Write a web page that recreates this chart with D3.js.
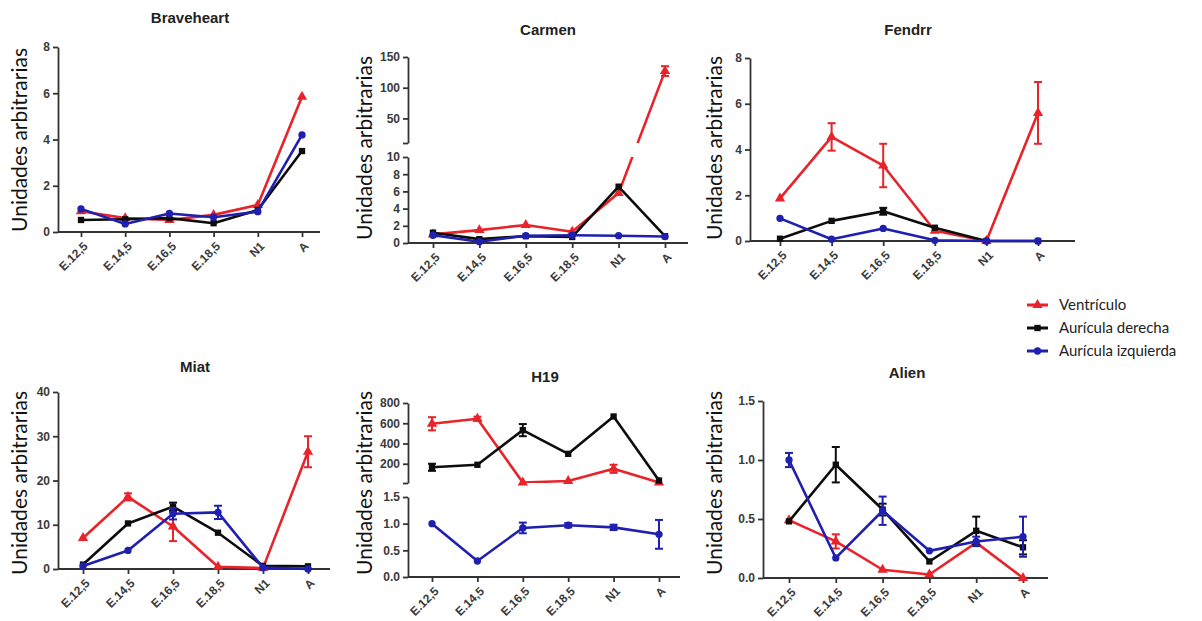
<!DOCTYPE html>
<html>
<head>
<meta charset="utf-8">
<script src="https://cdn.jsdelivr.net/npm/d3@7"></script>
<style>
  body { margin: 0; background: #fff; }
  .tick text { font-family: "Liberation Sans", Arial, sans-serif; font-weight: bold; font-size: 12px; fill: #3a3a3a; }
  .panel-title { font-family: "Liberation Sans", Arial, sans-serif; font-weight: bold; font-size: 15px; fill: #222; }
  .y-label { font-family: Lato, sans-serif; font-size: 21px; fill: #111; }
  .legend text { font-family: Lato, sans-serif; font-size: 15px; fill: #222; }
</style>
</head>
<body>
<div id="chart"></div>
<script>
// categories and series
const categories = ["E.12,5", "E.14,5", "E.16,5", "E.18,5", "N1", "A"];
const seriesNames = ["Ventrículo", "Aurícula derecha", "Aurícula izquierda"];
const seriesColors = ["#e8232a", "#0d0d0d", "#1f1fb0"];

// Braveheart
const braveheartVent = [0.9, 0.6, 0.52, 0.74, 1.17, 5.85];
const braveheartDer  = [0.52, 0.55, 0.6, 0.38, 0.95, 3.5];
const braveheartIzq  = [1.0, 0.35, 0.8, 0.64, 0.88, 4.2];
const braveheartErr  = [[0,0,0,0,0,0],[0,0,0,0,0,0],[0,0,0,0,0,0]];

// Carmen
const carmenVent = [1.0, 1.5, 2.1, 1.3, 5.8, 127];
const carmenDer  = [1.2, 0.45, 0.8, 0.7, 6.55, 0.8];
const carmenIzq  = [0.9, 0.15, 0.85, 0.9, 0.85, 0.75];
const carmenErr  = [[0,0,0,0,0,8],[0,0,0,0,0,0],[0,0,0,0,0,0]];

// Fendrr
const fendrrVent = [1.86, 4.55, 3.3, 0.45, 0.0, 5.6];
const fendrrDer  = [0.1, 0.88, 1.3, 0.58, 0.0, 0.0];
const fendrrIzq  = [0.99, 0.08, 0.55, 0.03, 0.0, 0.0];
const fendrrErr  = [[0,0.6,0.95,0,0,1.35],[0,0,0.15,0,0,0],[0,0,0,0,0,0]];

// Miat
const miatVent = [7.0, 16.3, 9.6, 0.5, 0.2, 26.5];
const miatDer  = [1.0, 10.3, 14.1, 8.2, 0.7, 0.6];
const miatIzq  = [0.7, 4.2, 12.5, 12.8, 0.3, 0.0];
const miatErr  = [[0,0.8,3.3,0,0,3.5],[0,0,0.9,0,0,0],[0,0,1.3,1.5,0,0]];

// H19
const h19Vent = [595, 645, 15, 30, 150, 15];
const h19Der  = [165, 190, 532, 298, 667, 34];
const h19Izq  = [1.0, 0.3, 0.92, 0.97, 0.93, 0.8];
const h19Err  = [[65,20,0,0,40,0],[35,0,60,0,0,0],[0,0,0.1,0.04,0.05,0.27]];

// Alien
const alienVent = [0.49, 0.31, 0.07, 0.03, 0.3, 0.0];
const alienDer  = [0.48, 0.96, 0.58, 0.14, 0.4, 0.26];
const alienIzq  = [1.0, 0.17, 0.57, 0.23, 0.31, 0.35];
const alienErr  = [[0,0.06,0,0,0,0],[0,0.15,0.05,0,0.12,0.06],[0.06,0,0.12,0,0.04,0.17]];

const fmtInt = d3.format("d");
const fmt1 = d3.format(".1f");

const panels = [
  { title: "Braveheart", titleX: 190, titleY: 23, axisX: 58, axisEnd: 320, x0: 81, x5: 302,
    labelX: 27, labelY: 140,
    segments: [{ domain: [0, 8], range: [232, 47], ticks: [0, 2, 4, 6, 8], fmt: fmtInt }],
    series: [braveheartVent, braveheartDer, braveheartIzq], errs: braveheartErr },
  { title: "Carmen", titleX: 548, titleY: 35, axisX: 408, axisEnd: 688, x0: 433, x5: 665,
    labelX: 372, labelY: 148,
    segments: [{ domain: [0, 10], range: [243, 157], ticks: [0, 2, 4, 6, 8, 10], fmt: fmtInt },
               { domain: [10, 150], range: [143, 57], ticks: [10, 50, 100, 150], fmt: d => d === 10 ? "" : fmtInt(d) }],
    series: [carmenVent, carmenDer, carmenIzq], errs: carmenErr },
  { title: "Fendrr", titleX: 908, titleY: 35, axisX: 750, axisEnd: 1075, x0: 780, x5: 1038,
    labelX: 722, labelY: 148,
    segments: [{ domain: [0, 8], range: [241, 58], ticks: [0, 2, 4, 6, 8], fmt: fmtInt }],
    series: [fendrrVent, fendrrDer, fendrrIzq], errs: fendrrErr },
  { title: "Miat", titleX: 195, titleY: 372, axisX: 58, axisEnd: 330, x0: 83, x5: 308,
    labelX: 27, labelY: 483,
    segments: [{ domain: [0, 40], range: [569, 392], ticks: [0, 10, 20, 30, 40], fmt: fmtInt }],
    series: [miatVent, miatDer, miatIzq], errs: miatErr },
  { title: "H19", titleX: 545, titleY: 382, axisX: 408, axisEnd: 680, x0: 432, x5: 659,
    labelX: 372, labelY: 483,
    segments: [{ domain: [0, 1.5], range: [577, 497], ticks: [0, 0.5, 1.0, 1.5], fmt: fmt1 },
               { domain: [10, 800], range: [483, 403], ticks: [10, 200, 400, 600, 800], fmt: d => d === 10 ? "" : fmtInt(d) }],
    series: [h19Vent, h19Der, h19Izq], errs: h19Err },
  { title: "Alien", titleX: 907, titleY: 378, axisX: 763, axisEnd: 1048, x0: 789, x5: 1023,
    labelX: 722, labelY: 483,
    segments: [{ domain: [0, 1.5], range: [578, 401], ticks: [0, 0.5, 1.0, 1.5], fmt: fmt1 }],
    series: [alienVent, alienDer, alienIzq], errs: alienErr }
];

const symbols = [d3.symbolTriangle, d3.symbolSquare, d3.symbolCircle];
const symbolSizes = [46, 40, 42];

const svg = d3.select("#chart").append("svg")
  .attr("width", 1202)
  .attr("height", 621);

panels.forEach((p, pi) => {
  const g = svg.append("g").attr("class", "panel");

  const x = d3.scalePoint().domain(categories).range([p.x0, p.x5]);
  const scales = p.segments.map(s => d3.scaleLinear().domain(s.domain).range(s.range));

  // piecewise y mapping for broken axes
  const y = v => {
    for (let i = scales.length - 1; i >= 0; i--) {
      if (v >= p.segments[i].domain[0] || i === 0) return scales[i](v);
    }
  };

  // title
  g.append("text").attr("class", "panel-title")
    .attr("x", p.titleX).attr("y", p.titleY)
    .attr("text-anchor", "middle")
    .text(p.title);

  // y label
  g.append("text").attr("class", "y-label")
    .attr("transform", `translate(${p.labelX},${p.labelY}) rotate(-90)`)
    .attr("text-anchor", "middle")
    .text("Unidades arbitrarias");

  // y axis segments
  p.segments.forEach((s, si) => {
    const ax = g.append("g")
      .attr("transform", `translate(${p.axisX},0)`)
      .call(d3.axisLeft(scales[si]).tickValues(s.ticks).tickFormat(s.fmt).tickSize(5).tickSizeOuter(0));
    ax.select(".domain").attr("stroke", "#333").attr("stroke-width", 1.8);
    ax.selectAll(".tick line").attr("stroke", "#333").attr("stroke-width", 1.8);
    ax.selectAll(".tick text").attr("x", -8);
  });

  // x axis
  const yBottom = p.segments[0].range[0];
  const xa = g.append("g")
    .attr("transform", `translate(0,${yBottom})`)
    .call(d3.axisBottom(x).tickSize(5).tickSizeOuter(0));
  xa.select(".domain").remove();
  xa.append("line")
    .attr("x1", p.axisX).attr("x2", p.axisEnd)
    .attr("stroke", "#333").attr("stroke-width", 1.8);
  xa.selectAll(".tick line").attr("stroke", "#333").attr("stroke-width", 1.8);
  xa.selectAll(".tick text")
    .attr("x", 0).attr("y", 0).attr("dy", "0.35em")
    .attr("transform", "translate(4,12) rotate(-45)")
    .style("text-anchor", "end");

  // clip out the gap of a broken axis
  let clipId = null;
  if (p.segments.length > 1) {
    clipId = `clip-${pi}`;
    const cp = svg.append("defs").append("clipPath").attr("id", clipId);
    cp.append("rect").attr("x", p.axisX).attr("width", p.axisEnd - p.axisX + 20)
      .attr("y", p.segments[0].range[1]).attr("height", p.segments[0].range[0] - p.segments[0].range[1] + 20);
    cp.append("rect").attr("x", p.axisX).attr("width", p.axisEnd - p.axisX + 20)
      .attr("y", p.segments[1].range[1] - 20).attr("height", p.segments[1].range[0] - p.segments[1].range[1] + 20);
  }

  const line = d3.line()
    .x((d, i) => x(categories[i]))
    .y(d => y(d));

  p.series.forEach((vals, k) => {
    const color = seriesColors[k];
    const sg = g.append("g");

    // error bars
    const errs = p.errs[k];
    vals.forEach((v, i) => {
      const e = errs[i];
      if (!e) return;
      const cx = x(categories[i]);
      const y1 = y(v + e), y2 = y(Math.max(0, v - e));
      sg.append("line").attr("x1", cx).attr("x2", cx).attr("y1", y1).attr("y2", y2)
        .attr("stroke", color).attr("stroke-width", 2);
      [y1, y2].forEach(yy => sg.append("line")
        .attr("x1", cx - 4).attr("x2", cx + 4).attr("y1", yy).attr("y2", yy)
        .attr("stroke", color).attr("stroke-width", 2));
    });

    const path = sg.append("path")
      .datum(vals)
      .attr("d", line)
      .attr("fill", "none")
      .attr("stroke", color)
      .attr("stroke-width", 2.6)
      .attr("stroke-linejoin", "round");
    if (clipId) path.attr("clip-path", `url(#${clipId})`);

    sg.selectAll(".pt")
      .data(vals)
      .enter()
      .append("path")
      .attr("class", "pt")
      .attr("transform", (d, i) => `translate(${x(categories[i])},${y(d)})`)
      .attr("d", d3.symbol().type(symbols[k]).size(symbolSizes[k]))
      .attr("fill", color);
  });
});

// legend
const legend = svg.append("g").attr("class", "legend");
const legendY = [305, 328, 351];
seriesNames.forEach((name, k) => {
  const row = legend.append("g").attr("transform", `translate(0,${legendY[k]})`);
  row.append("line").attr("x1", 1027).attr("x2", 1048).attr("y1", 0).attr("y2", 0)
    .attr("stroke", seriesColors[k]).attr("stroke-width", 3);
  row.append("path")
    .attr("transform", "translate(1037.5,0)")
    .attr("d", d3.symbol().type(symbols[k]).size(symbolSizes[k]))
    .attr("fill", seriesColors[k]);
  row.append("text").attr("x", 1059).attr("y", 0).attr("dy", "0.35em").text(name);
});
</script>
</body>
</html>
